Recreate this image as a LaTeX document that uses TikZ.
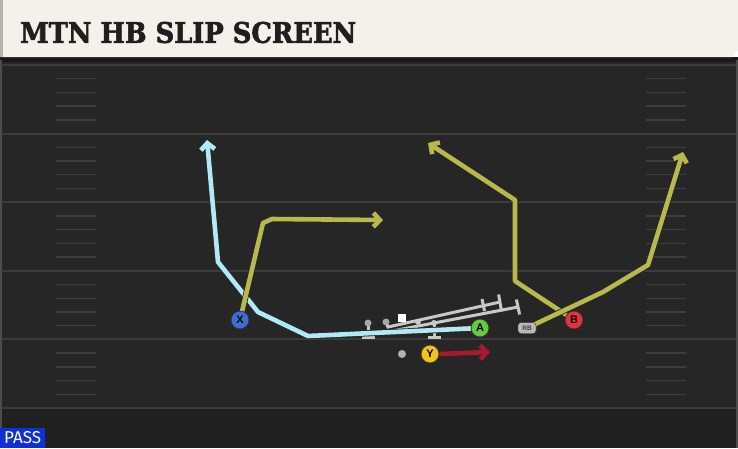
\documentclass[tikz,border=0pt]{standalone}
\usepackage{fontspec}
\usetikzlibrary{arrows.meta,calc}
\newfontfamily\titlefont{DejaVu Serif Bold}[FakeBold=2.2]
\newfontfamily\lblfont{Liberation Sans}
\newfontfamily\passfont{Fira Sans}
\definecolor{cream}{HTML}{F4F1EA}
\definecolor{fieldbg}{HTML}{262626}
\definecolor{fieldlow}{HTML}{202020}
\definecolor{yardline}{HTML}{3B3B3B}
\definecolor{hashc}{HTML}{3D3D3D}
\definecolor{routeblue}{HTML}{B2E9F6}
\definecolor{routeolive}{HTML}{B8B84C}
\definecolor{routered}{HTML}{A8182E}
\definecolor{blockgray}{HTML}{C8C8C8}
\definecolor{xblue}{HTML}{3C6FD6}
\definecolor{agreen}{HTML}{62CC3C}
\definecolor{bred}{HTML}{E6323E}
\definecolor{yyellow}{HTML}{F0C21E}
\definecolor{passblue}{HTML}{0F2FD8}
\pgfdeclarelayer{field}
\pgfdeclarelayer{routes}
\pgfsetlayers{field,routes,main}
\tikzset{
  route/.style={line width=4.6pt, line join=round,
    -{Straight Barb[length=6.5pt,width=14pt]},
    preaction={draw=black!85, line width=6.2pt}},
  player/.style={circle, draw=black!80, line width=0.8pt, minimum size=18pt, inner sep=0pt,
    font=\lblfont\bfseries\fontsize{11}{11}\selectfont, text=black},
  lineman/.style={circle, fill=gray!70, minimum size=7pt, inner sep=0pt},
  blockline/.style={draw=blockgray, line width=3pt},
  yard/.style={draw=yardline, line width=2pt},
  hashmark/.style={draw=hashc, line width=1.4pt},
}
\begin{document}
\begin{tikzpicture}[x=1pt,y=-1pt]
\useasboundingbox (0,0) rectangle (738,448);
\begin{pgfonlayer}{field}
  \fill[fieldbg] (0,58) rectangle (738,448);
  \fill[fieldlow] (0,408) rectangle (738,448);
  \fill[black!90] (0,57) rectangle (738,62);
  \foreach \yy in {65,133.6,202.2,270.8,339.4,408} {
    \draw[yard] (0,\yy) -- (738,\yy);
  }
  \foreach \k in {0,1,2,3,4} {
    \foreach \j in {1,2,3,4} {
      \pgfmathsetmacro{\hy}{65+68.6*\k+13.72*\j}
      \draw[hashmark] (56,\hy) -- (96,\hy);
      \draw[hashmark] (646,\hy) -- (686,\hy);
    }
  }
  \draw[draw=black!70, line width=1.5pt] (1,60) -- (1,448);
  \draw[draw=black!70, line width=1.5pt] (737,60) -- (737,448);
  % title bar
  \fill[cream] (0,0) -- (738,0) -- (738,50) -- (733,57) -- (0,57) -- cycle;
  \fill[gray!60] (0,0) rectangle (3,57);
\end{pgfonlayer}

% title
\node[anchor=west, inner sep=0pt, text=black!88] (title) at (20,32.5)
  {\resizebox{336pt}{21pt}{\titlefont MTN HB SLIP SCREEN}};

% pass label
\node[fill=passblue, anchor=south west, minimum width=45pt, minimum height=20pt, inner sep=0pt,
  text=white] (pass) at (0,448) {\resizebox{37pt}{12pt}{\passfont PASS}};

% players
\node[player, fill=xblue] (X) at (240,320) {X};
\node[player, fill=agreen] (A) at (480,328) {A};
\node[player, fill=bred] (B) at (574,320) {B};
\node[player, fill=yyellow] (Y) at (430,354) {Y};
\node[draw=black!80, fill=gray!55, rounded corners=3pt, minimum width=18pt, minimum height=11pt,
  inner sep=0pt, font=\lblfont\bfseries\fontsize{6.5}{6.5}\selectfont, text=black!75] (RB) at (527,328) {RB};
\node[lineman] (L1) at (368,323) {};
\node[lineman] (L2) at (386,322) {};
\node[lineman, fill=blockgray, minimum size=6pt] (L3) at (418,322) {};
\node[lineman, fill=blockgray, minimum size=6pt] (L4) at (434,323) {};
\node[fill=white, minimum size=8pt, inner sep=0pt] (C) at (402,318) {};
\node[circle, fill=gray!60, minimum size=8pt, inner sep=0pt] (QB) at (402,354) {};

% route waypoints
\coordinate (xa) at (263,223);
\coordinate (xb) at (272,219);
\coordinate (xe) at (383,220);
\coordinate (aa) at (308,336);
\coordinate (ab) at (258,312);
\coordinate (ac) at (218,262);
\coordinate (ae) at (207,140);
\coordinate (ba) at (515,281);
\coordinate (bb) at (515,200);
\coordinate (be) at (428,143);
\coordinate (ra) at (603,292);
\coordinate (rb) at (648,265);
\coordinate (re) at (683,152);
\coordinate (ye) at (490,352);
\coordinate (u1s) at (388,327);
\coordinate (u1e) at (500,302);
\coordinate (u2s) at (392,331);
\coordinate (u2e) at (518,307);
\coordinate (l1b) at (368,337);
\coordinate (l4b) at (434,337);

\begin{pgfonlayer}{routes}
  % blocking
  \draw[blockline] (L1.center) -- (l1b);
  \draw[blockline] (362,337) -- (375,337);
  \draw[blockline] (L4.center) -- (l4b);
  \draw[blockline] (428,337) -- (441,337);
  \draw[blockline] (L2.center) -- (u1s) -- (u1e);
  \draw[blockline] ($(u1e)+(-1.4,-7.5)$) -- ($(u1e)+(1.6,9.5)$);
  \draw[blockline] (482,299) -- (484.5,311);
  \draw[blockline] (u2s) -- (u2e);
  \draw[blockline] ($(u2e)+(-1.6,-7.5)$) -- ($(u2e)+(1.6,7.5)$);
  % routes
  \draw[route, draw=routeblue] (A.center) -- (aa) -- (ab) -- (ac) -- (ae);
  \draw[route, draw=routeolive] (X.center) -- (xa) -- (xb) -- (xe);
  \draw[route, draw=routeolive] (B.center) -- (ba) -- (bb) -- (be);
  \draw[route, draw=routeolive] (RB.center) -- (ra) -- (rb) -- (re);
  \draw[route, draw=routered] (Y.east) -- (ye);
\end{pgfonlayer}
\end{tikzpicture}
\end{document}
